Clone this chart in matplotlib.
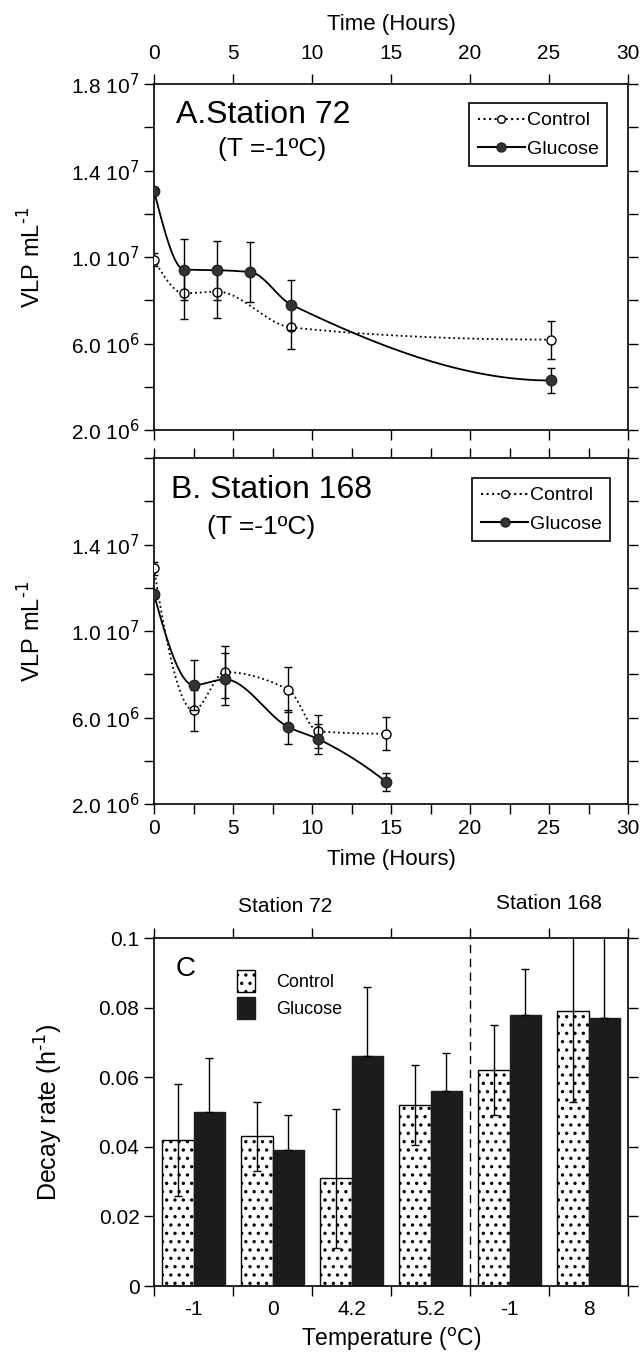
# VLP decay experiments - three panels (A, B, C)
import numpy as np
import matplotlib
matplotlib.use('Agg')
import matplotlib.pyplot as plt
from matplotlib.lines import Line2D
from matplotlib.patches import Patch

plt.rcParams['font.family'] = ['Liberation Sans', 'DejaVu Sans']
plt.rcParams['hatch.linewidth'] = 1.2

# ---- data, panel A (Station 72) ----
a_ctrl_t = [0, 1.9, 4.0, 8.7, 25.1]
a_ctrl_v = [9.87e6, 8.32e6, 8.40e6, 6.74e6, 6.18e6]
a_ctrl_e = [0.3e6, 1.2e6, 1.2e6, 1.0e6, 0.88e6]
a_glu_t = [0, 1.9, 4.0, 6.1, 8.7, 25.1]
a_glu_v = [13.05e6, 9.42e6, 9.39e6, 9.30e6, 7.79e6, 4.29e6]
a_glu_e = [0.2e6, 1.4e6, 1.37e6, 1.38e6, 1.15e6, 0.6e6]

# ---- data, panel B (Station 168) ----
b_ctrl_t = [0, 2.5, 4.5, 8.5, 10.4, 14.7]
b_ctrl_v = [12.9e6, 6.33e6, 8.10e6, 7.29e6, 5.36e6, 5.25e6]
b_ctrl_e = [0.3e6, 0.95e6, 1.2e6, 1.05e6, 0.75e6, 0.77e6]
b_glu_t = [0, 2.5, 4.5, 8.5, 10.4, 14.7]
b_glu_v = [11.7e6, 7.50e6, 7.76e6, 5.56e6, 5.00e6, 3.02e6]
b_glu_e = [0.2e6, 1.14e6, 1.2e6, 0.8e6, 0.7e6, 0.4e6]

# ---- data, panel C (decay rates) ----
c_temps = ['-1', '0', '4.2', '5.2', '-1', '8']
c_ctrl = [0.042, 0.043, 0.031, 0.052, 0.062, 0.079]
c_ctrl_err = [0.016, 0.010, 0.020, 0.0115, 0.013, 0.026]
c_glu = [0.050, 0.039, 0.066, 0.056, 0.078, 0.077]
c_glu_err = [0.0155, 0.010, 0.020, 0.011, 0.013, 0.028]


def smooth(x, y, n=300):
    # monotone cubic (pchip) curve through the points, only for drawing the line
    x = np.asarray(x, float); y = np.asarray(y, float)
    h = np.diff(x); d = np.diff(y) / h
    m = np.zeros_like(y)
    for k in range(1, len(x) - 1):
        if d[k - 1] * d[k] > 0:
            w1 = 2 * h[k] + h[k - 1]; w2 = h[k] + 2 * h[k - 1]
            m[k] = (w1 + w2) / (w1 / d[k - 1] + w2 / d[k])
    def end(h0, h1, d0, d1):
        s = ((2 * h0 + h1) * d0 - h0 * d1) / (h0 + h1)
        if np.sign(s) != np.sign(d0):
            s = 0
        elif np.sign(d0) != np.sign(d1) and abs(s) > abs(3 * d0):
            s = 3 * d0
        return s
    m[0] = end(h[0], h[1], d[0], d[1])
    m[-1] = end(h[-1], h[-2], d[-1], d[-2])
    xs, ys = [], []
    for k in range(len(x) - 1):
        t = np.linspace(0, 1, n // (len(x) - 1))
        h00 = 2*t**3 - 3*t**2 + 1; h10 = t**3 - 2*t**2 + t
        h01 = -2*t**3 + 3*t**2; h11 = t**3 - t**2
        xs.append(x[k] + t * h[k])
        ys.append(h00*y[k] + h10*h[k]*m[k] + h01*y[k+1] + h11*h[k]*m[k+1])
    return np.concatenate(xs), np.concatenate(ys)


fig = plt.figure(figsize=(6.43, 13.59), dpi=100)
W, H = 643, 1359


def box(l, t, r, b):
    return [l / W, 1 - b / H, (r - l) / W, (b - t) / H]


yt = np.arange(2e6, 1.8e7 + 1, 2e6)
ylab = {1.8e7: '1.8 10$^{7}$', 1.4e7: '1.4 10$^{7}$', 1.0e7: '1.0 10$^{7}$',
        6e6: '6.0 10$^{6}$', 2e6: '2.0 10$^{6}$'}


def time_panel(ax, ct, cv, ce, gt, gv, ge, title, txy, sub_xy, leg_xy, show_top):
    xs, ys = smooth(ct, cv)
    ax.plot(xs, ys, ':', color='k', lw=1.3)
    xs, ys = smooth(gt, gv)
    ax.plot(xs, ys, '-', color='k', lw=1.3)
    ax.errorbar(ct, cv, yerr=ce, fmt='o', mfc='white', mec='k', ms=6.5,
                ecolor='k', elinewidth=1, capsize=3, mew=1, zorder=3)
    ax.errorbar(gt, gv, yerr=ge, fmt='o', mfc='#333333', mec='#222222', ms=7.5,
                ecolor='k', elinewidth=1, capsize=3, zorder=4)
    ax.set_xlim(0, 30)
    ax.set_ylim(2e6, 1.8e7)
    ax.set_yticks(yt)
    labs = [ylab.get(v, '') for v in yt]
    if not show_top:
        labs[-1] = ''
    ax.set_yticklabels(labs, fontsize=15)
    ax.set_ylabel('VLP mL$^{\\text{-1}}$', fontsize=17, labelpad=18)
    ax.tick_params(direction='out', length=7, width=1, right=True, top=True)
    for s in ax.spines.values():
        s.set_linewidth(1.2)
    ax.text(txy[0], txy[1], title, transform=ax.transAxes, fontsize=23,
            va='center', ha='left')
    ax.text(sub_xy[0], sub_xy[1], '(T =-1ºC)', transform=ax.transAxes,
            fontsize=19, va='center', ha='left')
    h = [Line2D([], [], ls=':', color='k', marker='o', mfc='white', mec='k', ms=5.5),
         Line2D([], [], ls='-', color='k', marker='o', mfc='#333333', mec='#222222', ms=6.5)]
    leg = ax.legend(h, ['Control', 'Glucose'], loc='upper right',
                    bbox_to_anchor=leg_xy, fontsize=14, fancybox=False,
                    edgecolor='k', framealpha=1, handlelength=2.4,
                    handletextpad=0.1, borderpad=0.45, labelspacing=0.55,
                    borderaxespad=0)
    leg.get_frame().set_linewidth(1.2)


# panel A
axA = fig.add_axes(box(154, 84, 628, 430))
time_panel(axA, a_ctrl_t, a_ctrl_v, a_ctrl_e, a_glu_t, a_glu_v, a_glu_e,
           'A.Station 72', (0.046, 0.91), (0.135, 0.812), (0.956, 0.945), True)
axA.set_xticks(range(0, 31, 5))
axA.xaxis.tick_top()
axA.tick_params(axis='x', bottom=True, labelbottom=False, labeltop=True,
                labelsize=15, pad=8)
axA.xaxis.set_label_position('top')
axA.set_xlabel('Time (Hours)', fontsize=16, labelpad=10)

# panel B
axB = fig.add_axes(box(154, 458, 628, 804))
time_panel(axB, b_ctrl_t, b_ctrl_v, b_ctrl_e, b_glu_t, b_glu_v, b_glu_e,
           'B. Station 168', (0.036, 0.908), (0.112, 0.80), (0.963, 0.942), False)
bt = np.arange(0, 31, 2.5)
axB.set_xticks(bt)
axB.set_xticklabels([str(int(v)) if v % 5 == 0 else '' for v in bt])
axB.tick_params(axis='x', labelsize=15)
axB.set_xlabel('Time (Hours)', fontsize=16, labelpad=8)

# panel C
axC = fig.add_axes(box(154, 938, 628, 1286))
xpos = np.arange(len(c_temps)) + 0.5
bw = 0.4
axC.bar(xpos - bw / 2, c_ctrl, bw, color='white', edgecolor='k',
        hatch='..', lw=1, yerr=c_ctrl_err, capsize=3,
        error_kw=dict(elinewidth=1, ecolor='k'))
axC.bar(xpos + bw / 2, c_glu, bw, color='#1c1c1c', edgecolor='#1c1c1c',
        lw=1, yerr=[np.zeros(len(c_glu)), c_glu_err], capsize=3,
        error_kw=dict(elinewidth=1, ecolor='k'))
axC.axvline(4, color='k', ls=(0, (6, 4)), lw=1)
axC.set_xlim(0, 6)
axC.set_ylim(0, 0.1)
axC.set_xticks(range(0, 7))
axC.set_xticklabels([])
axC.set_xticks(xpos, minor=True)
axC.set_xticklabels(c_temps, minor=True, fontsize=15)
axC.tick_params(axis='x', which='minor', length=0, pad=10)
axC.set_yticks([0, 0.02, 0.04, 0.06, 0.08, 0.1])
axC.set_yticklabels(['0', '0.02', '0.04', '0.06', '0.08', '0.1'], fontsize=15)
axC.tick_params(which='major', direction='out', length=7, width=1,
                right=True, top=True)
for s in axC.spines.values():
    s.set_linewidth(1.2)
axC.set_xlabel('Temperature ($^{\\rm o}$C)', fontsize=16.5, labelpad=5)
axC.set_ylabel('Decay rate (h$^{\\text{-1}}$)', fontsize=18, labelpad=24)
axC.text(1.66, 1.09, 'Station 72', transform=axC.get_xaxis_transform(),
         fontsize=15, ha='center', va='center')
axC.text(5.0, 1.10, 'Station 168', transform=axC.get_xaxis_transform(),
         fontsize=15, ha='center', va='center')
axC.text(0.4, 0.091, 'C', fontsize=20, ha='center', va='center')
hc = [Patch(facecolor='white', edgecolor='k', hatch='..'),
      Patch(facecolor='#1c1c1c', edgecolor='#1c1c1c')]
axC.legend(hc, ['Control', 'Glucose'], loc='upper left',
           bbox_to_anchor=(0.14, 0.955), frameon=False, fontsize=13,
           handlelength=1.0, handleheight=1.5, handletextpad=1.2,
           labelspacing=0.3)

fig.savefig('out.png', dpi=100)
